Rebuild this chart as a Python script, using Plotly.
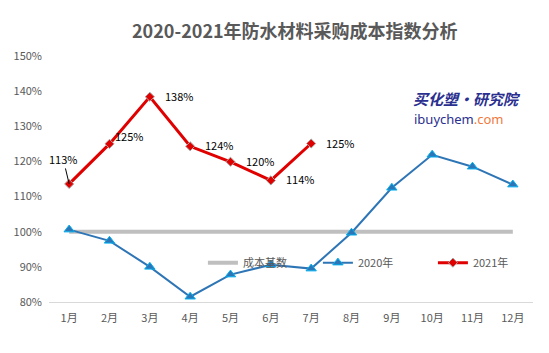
import plotly.graph_objects as go

months = ["1月", "2月", "3月", "4月", "5月", "6月", "7月", "8月", "9月", "10月", "11月", "12月"]
base = [100] * 12
y2020 = [100.6, 97.4, 90.0, 81.5, 87.8, 90.6, 89.5, 99.7, 112.5, 121.9, 118.5, 113.4]
y2021 = [113.6, 125.0, 138.4, 124.3, 119.9, 114.6, 125.1]
labels2021 = ["113%", "125%", "138%", "124%", "120%", "114%", "125%"]
yticks = [80, 90, 100, 110, 120, 130, 140, 150]
ytick_text = ["80%", "90%", "100%", "110%", "120%", "130%", "140%", "150%"]

FONT = "Noto Sans CJK SC, Noto Sans, sans-serif"
fig = go.Figure()
fig.add_trace(go.Scatter(x=months, y=base, mode="lines", name="成本基数",
                         line=dict(color="#bfbfbf", width=4)))
fig.add_trace(go.Scatter(x=months, y=y2020, mode="lines+markers", name="2020年",
                         line=dict(color="#2e75b6", width=2),
                         marker=dict(symbol="triangle-up", size=9, color="#2e75b6",
                                     line=dict(color="#00b0f0", width=1))))
fig.add_trace(go.Scatter(x=months[:len(y2021)], y=y2021, mode="lines+markers", name="2021年",
                         line=dict(color="#e00000", width=3),
                         marker=dict(symbol="diamond", size=7, color="#e00000",
                                     line=dict(color="#a6a6a6", width=1))))

for i, (m, v, t) in enumerate(zip(months, y2021, labels2021)):
    if i == 0:
        fig.add_annotation(x=m, y=v, text=t, showarrow=True, arrowhead=0, arrowwidth=1,
                           arrowcolor="#000000", ax=-6, ay=-25,
                           font=dict(family=FONT, size=11, color="#000000"))
    else:
        fig.add_annotation(x=m, y=v, text=t, showarrow=False, xanchor="left",
                           xshift=3 if i == 1 else 13, yshift=8 if i == 1 else 1,
                           font=dict(family=FONT, size=11, color="#000000"))

fig.add_annotation(xref="paper", yref="paper", x=0.748, y=0.828, xanchor="left", yanchor="middle",
                   text="<b><i>买化塑·研究院</i></b>", showarrow=False,
                   font=dict(family=FONT, size=15, color="#2b2f8f"))
fig.add_annotation(xref="paper", yref="paper", x=0.75, y=0.745, xanchor="left", yanchor="middle",
                   text="<span style='color:#2b2f8f'>ibuychem</span><span style='color:#f07a3e'>.com</span>",
                   showarrow=False, font=dict(family="Noto Sans, sans-serif", size=13))

fig.update_layout(
    width=549, height=353,
    margin=dict(l=49, r=16, t=56, b=51, autoexpand=False),
    paper_bgcolor="white", plot_bgcolor="white",
    title=dict(text="<b>2020-2021年防水材料采购成本指数分析</b>", x=0.537, xanchor="center",
               y=0.91, yanchor="middle",
               font=dict(family=FONT, size=18, color="#595959")),
    font=dict(family=FONT, size=11, color="#595959"),
    showlegend=True,
    legend=dict(orientation="h", x=0.318, y=0.16, xanchor="left", yanchor="middle",
                bgcolor="rgba(0,0,0,0)", entrywidth=70, itemwidth=30,
                font=dict(size=11, color="#595959")),
    xaxis=dict(range=[-0.5, 11.5], showgrid=False, showline=True, linecolor="#d9d9d9",
               linewidth=1, ticks="", tickfont=dict(size=11, color="#595959"),
               ticklabelstandoff=6),
    yaxis=dict(range=[80, 150], tickvals=yticks, ticktext=ytick_text, showgrid=False,
               zeroline=False, showline=False, ticks="", ticklabelstandoff=6,
               tickfont=dict(size=11, color="#595959")),
)
fig.write_html("out.html")
